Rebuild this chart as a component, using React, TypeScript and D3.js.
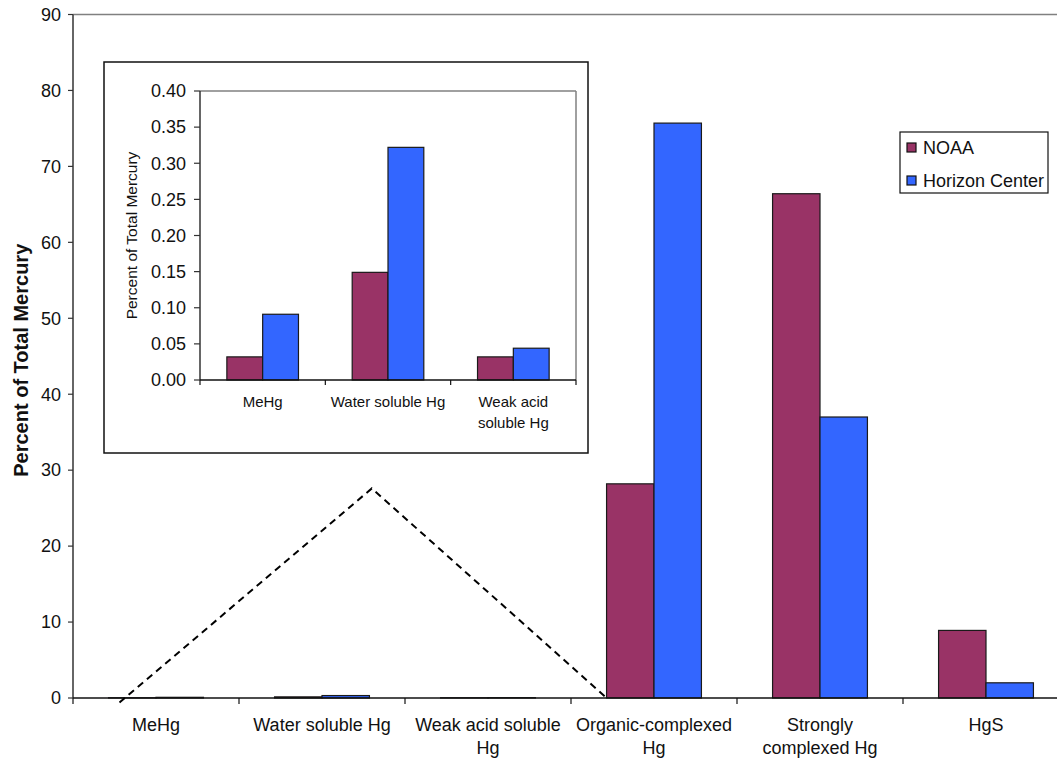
import * as d3 from 'd3';

// fractions of total mercury
const categories = [
  'MeHg',
  'Water soluble Hg',
  'Weak acid soluble\nHg',
  'Organic-complexed\nHg',
  'Strongly\ncomplexed Hg',
  'HgS',
];
const insetCategories = ['MeHg', 'Water soluble Hg', 'Weak acid\nsoluble Hg'];
const seriesNames = ['NOAA', 'Horizon Center'];
const noaa = [0.032, 0.149, 0.032, 28.2, 66.4, 8.9];
const horizon = [0.091, 0.322, 0.044, 75.7, 37.0, 2.0];
const yTicks = [0, 10, 20, 30, 40, 50, 60, 70, 80, 90];
const insetTicks = [0, 0.05, 0.1, 0.15, 0.2, 0.25, 0.3, 0.35, 0.4];
// dashed "zoom" triangle, in (category position, value) units
const zoomGuide: Array<[number, number]> = [
  [0.28, -0.6],
  [1.8, 27.6],
  [3.22, -0.1],
];

const colors = ['#993366', '#3366FF'];
const font = "Arial, 'Liberation Sans', sans-serif";

const W = 1057;
const H = 763;

function BarGroup({
  cats,
  x,
  y,
  series,
}: {
  cats: string[];
  x: d3.ScaleBand<string>;
  y: d3.ScaleLinear<number, number>;
  series: number[][];
}) {
  const bw = x.bandwidth() / 3.5; // Excel gap width 150%
  const inner = d3
    .scaleBand()
    .domain(series.map((_, i) => String(i)))
    .range([0, bw * series.length]);
  return (
    <g>
      {cats.map((c, ci) =>
        series.map((s, si) => {
          const x0 = (x(c) ?? 0) + (x.bandwidth() - bw * series.length) / 2 + (inner(String(si)) ?? 0);
          const top = y(s[ci]);
          return (
            <rect
              key={`${ci}-${si}`}
              x={x0}
              y={top}
              width={inner.bandwidth()}
              height={Math.max(0, y(0) - top)}
              fill={colors[si]}
              stroke="#1a1a1a"
              strokeWidth={1.2}
            />
          );
        })
      )}
    </g>
  );
}

export default function App() {
  // main chart
  const x = d3.scaleBand().domain(categories).range([73, 1069]);
  const y = d3.scaleLinear().domain([0, 90]).range([698, 14.5]);
  const catPos = d3
    .scaleLinear()
    .domain([0, categories.length])
    .range(x.range() as [number, number]);

  // inset chart
  const insetCats = categories.slice(0, 3);
  const ix = d3.scaleBand().domain(insetCats).range([200, 576]);
  const iy = d3.scaleLinear().domain([0, 0.4]).range([380, 91]);

  const guide = d3
    .line<[number, number]>()
    .x((d) => catPos(d[0]))
    .y((d) => y(d[1]));

  const [x0, x1] = x.range();
  const [ix0, ix1] = ix.range();

  return (
    <svg
      width={W}
      height={H}
      style={{ position: 'absolute', left: 0, top: 0, background: '#fff' }}
      fontFamily={font}
    >
      {/* main plot frame */}
      <line x1={x0} x2={x1} y1={y(90)} y2={y(90)} stroke="#808080" strokeWidth={1.5} />
      <line x1={x1} x2={x1} y1={y(90)} y2={y(0)} stroke="#808080" strokeWidth={1.5} />

      <BarGroup cats={categories} x={x} y={y} series={[noaa, horizon]} />

      {/* y axis */}
      <line x1={x0} x2={x0} y1={y(0)} y2={y(90)} stroke="#333" strokeWidth={1.5} />
      {yTicks.map((t) => (
        <g key={t}>
          <line x1={x0 - 5} x2={x0} y1={y(t)} y2={y(t)} stroke="#333" strokeWidth={1.2} />
          <text x={x0 - 12} y={y(t)} dy="0.35em" textAnchor="end" fontSize={18} fill="#111">
            {t}
          </text>
        </g>
      ))}
      <text
        transform={`translate(28,${(y(0) + y(90)) / 2 + 4}) rotate(-90)`}
        textAnchor="middle"
        fontSize={20}
        fontWeight="bold"
        fill="#111"
      >
        Percent of Total Mercury
      </text>

      {/* x axis */}
      <line x1={x0} x2={x1} y1={y(0)} y2={y(0)} stroke="#111" strokeWidth={1.5} />
      {[...categories.map((c) => x(c) ?? 0), x1].map((p, i) => (
        <line key={i} x1={p} x2={p} y1={y(0)} y2={y(0) + 6} stroke="#111" strokeWidth={1.2} />
      ))}
      {categories.map((c) => (
        <text key={c} textAnchor="middle" fontSize={18} fill="#111">
          {c.split('\n').map((line, li) => (
            <tspan key={li} x={(x(c) ?? 0) + x.bandwidth() / 2} y={731 + li * 22.5}>
              {line}
            </tspan>
          ))}
        </text>
      ))}

      {/* dashed guide to the inset */}
      <path d={guide(zoomGuide) ?? ''} fill="none" stroke="#000" strokeWidth={2} strokeDasharray="7,5" />

      {/* inset */}
      <rect x={104} y={62} width={484} height={391} fill="#fff" stroke="#111" strokeWidth={1.5} />
      <line x1={ix0} x2={ix1} y1={iy(0.4)} y2={iy(0.4)} stroke="#808080" strokeWidth={1.5} />
      <line x1={ix1} x2={ix1} y1={iy(0.4)} y2={iy(0)} stroke="#808080" strokeWidth={1.5} />
      <BarGroup cats={insetCats} x={ix} y={iy} series={[noaa, horizon]} />
      <line x1={ix0} x2={ix0} y1={iy(0)} y2={iy(0.4)} stroke="#333" strokeWidth={1.5} />
      {insetTicks.map((t) => (
        <g key={t}>
          <line x1={ix0 - 6} x2={ix0} y1={iy(t)} y2={iy(t)} stroke="#333" strokeWidth={1.2} />
          <text x={ix0 - 14} y={iy(t)} dy="0.35em" textAnchor="end" fontSize={18} fill="#111">
            {d3.format('.2f')(t)}
          </text>
        </g>
      ))}
      <text
        transform={`translate(137,${(iy(0) + iy(0.4)) / 2}) rotate(-90)`}
        textAnchor="middle"
        fontSize={15.5}
        fill="#111"
      >
        Percent of Total Mercury
      </text>
      <line x1={ix0} x2={ix1} y1={iy(0)} y2={iy(0)} stroke="#111" strokeWidth={1.5} />
      {[...insetCats.map((c) => ix(c) ?? 0), ix1].map((p, i) => (
        <line key={i} x1={p} x2={p} y1={iy(0)} y2={iy(0) + 5} stroke="#111" strokeWidth={1.2} />
      ))}
      {insetCats.map((c, i) => (
        <text key={c} textAnchor="middle" fontSize={15} fill="#111">
          {insetCategories[i].split('\n').map((line, li) => (
            <tspan key={li} x={(ix(c) ?? 0) + ix.bandwidth() / 2} y={407 + li * 21}>
              {line}
            </tspan>
          ))}
        </text>
      ))}

      {/* legend */}
      <rect x={900} y={132} width={148} height={61} fill="#fff" stroke="#111" strokeWidth={1.2} />
      {seriesNames.map((n, i) => (
        <g key={n} transform={`translate(907,${143 + i * 33})`}>
          <rect width={9} height={9} fill={colors[i]} stroke="#111" strokeWidth={1.2} />
          <text x={16} y={11} fontSize={18} fill="#111">
            {n}
          </text>
        </g>
      ))}
    </svg>
  );
}
